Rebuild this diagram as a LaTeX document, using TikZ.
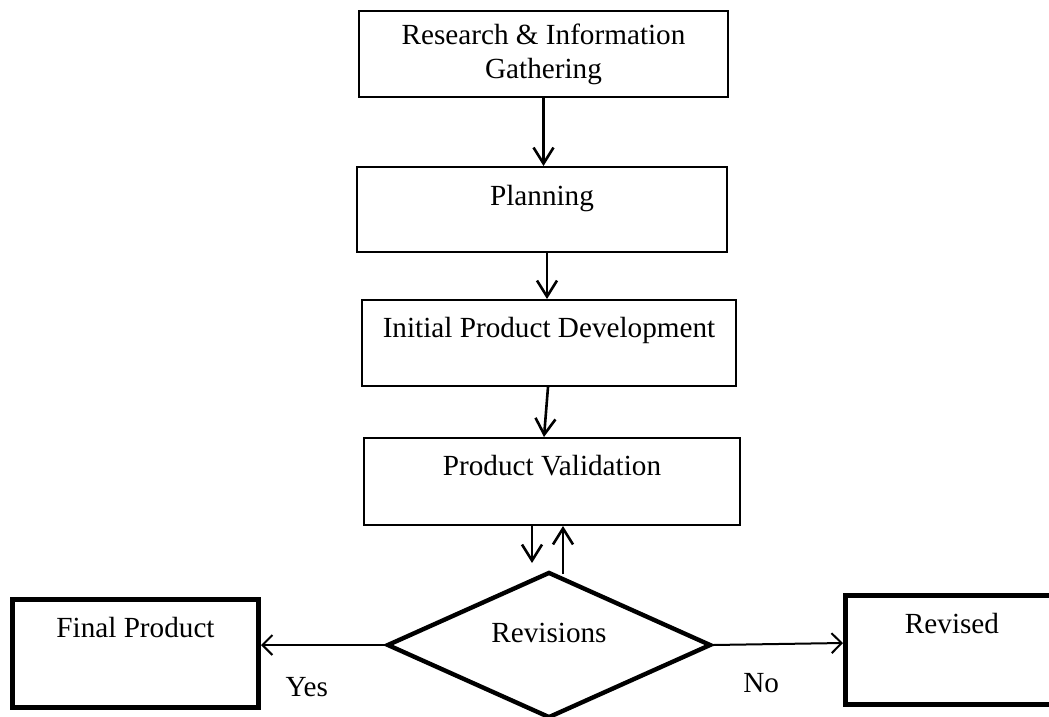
\documentclass[tikz,border=0pt]{standalone}
\usepackage{fontspec}
\setmainfont{Liberation Serif}
\usetikzlibrary{arrows.meta,shapes.geometric}

\begin{document}
\begin{tikzpicture}[x=0.5pt,y=-0.5pt,->,>={Straight Barb[length=8pt,width=10pt]},
                    line width=1.3pt,font=\fontsize{14.6pt}{17pt}\selectfont,
                    step node/.style={rectangle,draw,line width=0.8pt,inner sep=0pt},
                    end node/.style={rectangle,draw,line width=2.5pt,inner sep=0pt},
                    choice node/.style={diamond,aspect=2.2,draw,line width=2.2pt,inner sep=0pt},
                    side arrow/.style={line width=1pt,-{Straight Barb[length=5pt,width=10pt]}}]

  \clip (0,0) rectangle (1049,717);

  \node[step node,align=center,minimum width=184.7pt,minimum height=43pt] (research) at (543.5,54) {Research \& Information\\Gathering};
  \node[step node,minimum width=185pt,text height=19.1pt,text depth=23.6pt] (planning) at (542,209.5) {Planning};
  \node[step node,minimum width=187.2pt,text height=18.6pt,text depth=24.6pt] (initial) at (549,343) {Initial Product Development};
  \node[step node,minimum width=188.2pt,text height=18.6pt,text depth=25.1pt] (validation) at (552,481.5) {Product Validation};

  \node[choice node,minimum width=162pt,minimum height=73pt,text height=10pt,text depth=13pt] (revisions) at (549,645) {Revisions};
  \node[end node,minimum width=123pt,text height=18.75pt,text depth=35.25pt] (final) at (135.5,653.5) {Final Product};
  \node[end node,minimum width=106.5pt,text height=18.75pt,text depth=35.75pt] (revised) at (952,650) {Revised};

  \path
    (research.south) edge (research.south |- planning.north)
    ([xshift=2.5pt]planning.south) edge ([xshift=2.5pt]planning.south |- initial.north)
    ([xshift=-0.5pt]initial.south) edge ([xshift=-4pt]validation.north)

    ([xshift=-10pt]validation.south) edge ([xshift=-8.5pt,yshift=41pt]revisions.center)
    ([xshift=7pt,yshift=35.5pt]revisions.center) edge ([xshift=5.5pt]validation.south)
;

  \path[every node/.style={inner sep=0pt}]
    (revisions.west) edge [side arrow] node [pos=0.63,below=15.5pt] (yes) {Yes} (revisions.west -| final.east)
    (revisions.east) edge [side arrow] node [pos=0.37,below=14pt] (no) {No} ([yshift=3.5pt]revised.west)
;
\end{tikzpicture}
\end{document}
